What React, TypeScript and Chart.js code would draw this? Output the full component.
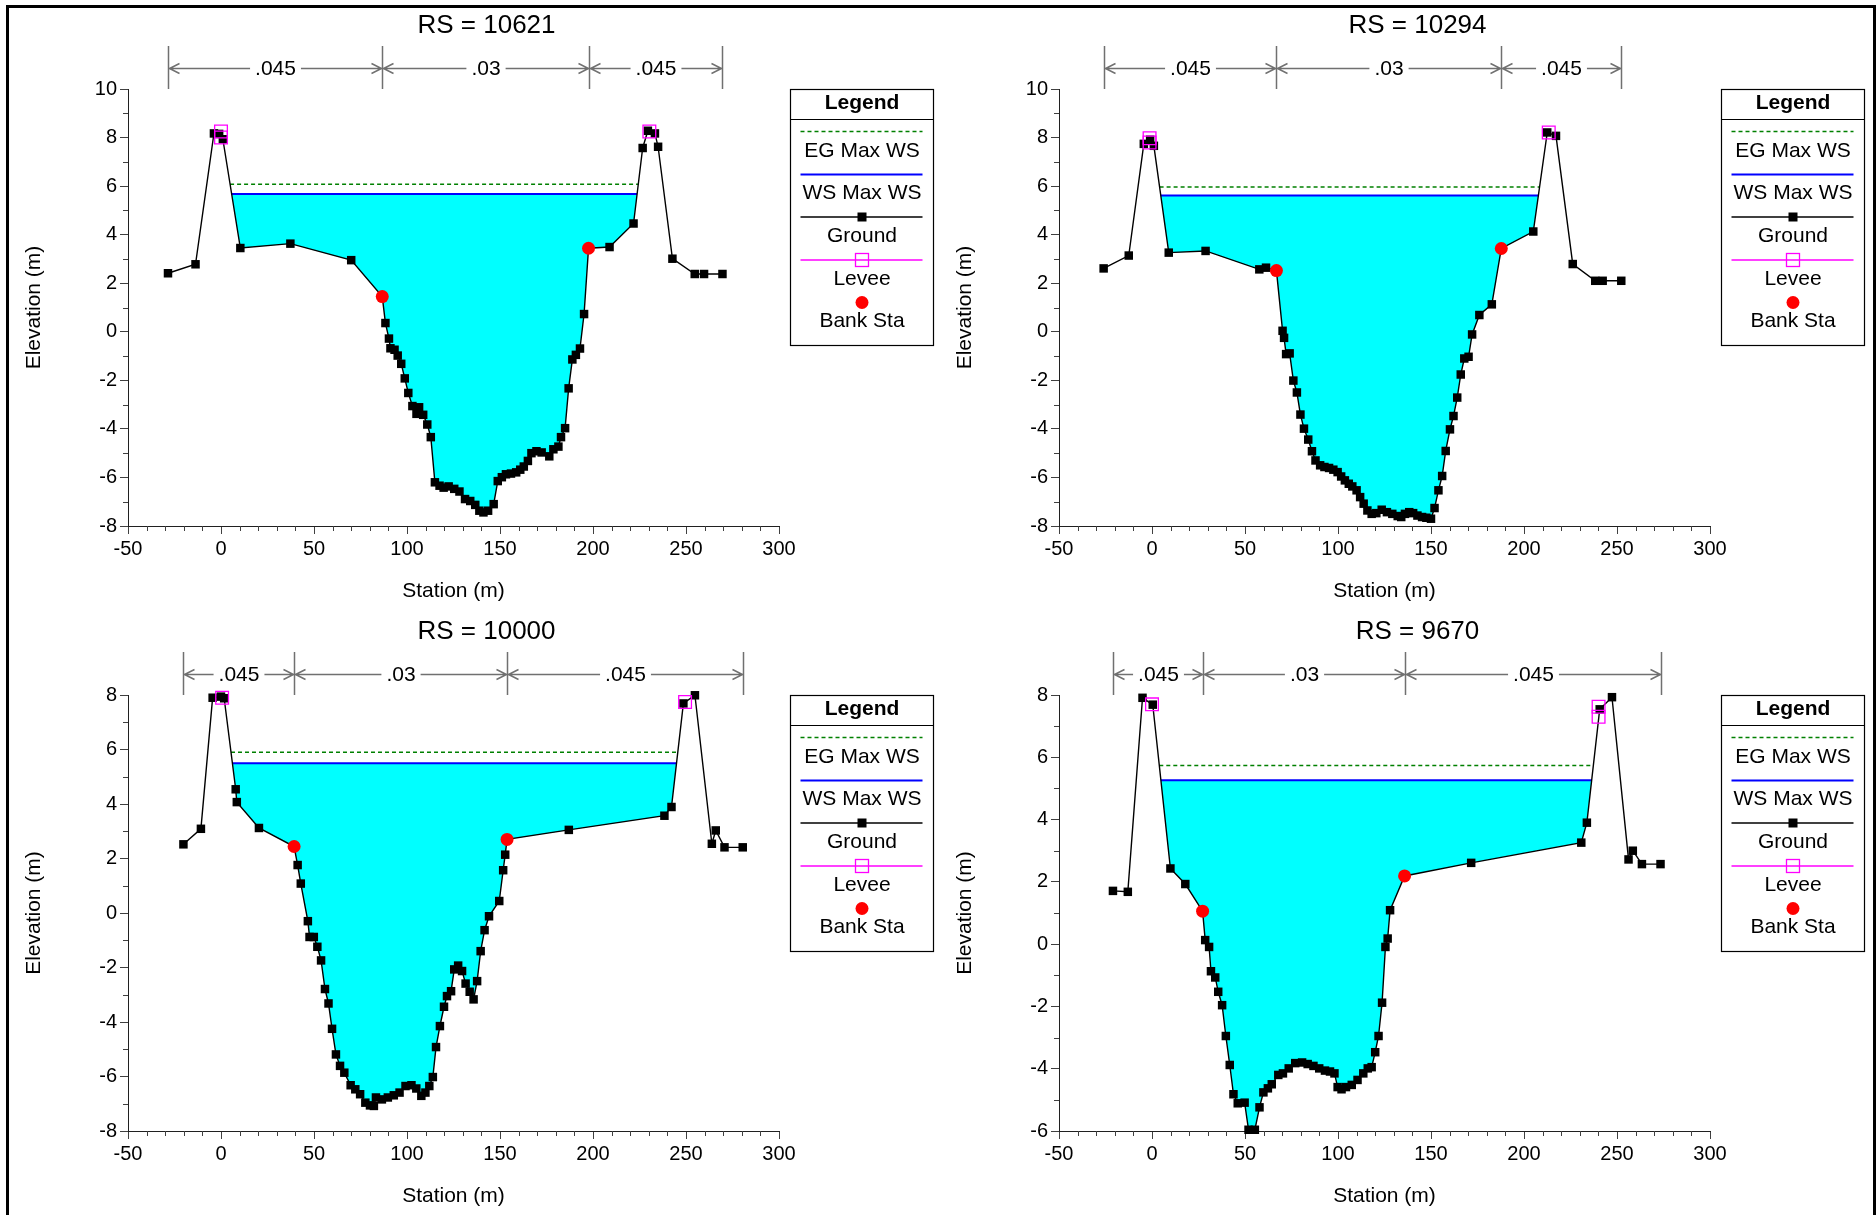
import React, { useEffect, useRef } from 'react';
import { Chart, registerables } from 'chart.js';

Chart.register(...registerables);

const FONT = '"Liberation Sans", Arial, Helvetica, sans-serif';

// ---------------- RS = 10621 ----------------
const rs10621Station = [-28.5, -13.7, -3.8, -1, 1, 10.4, 37.3, 70, 86.7, 88.4, 90.3, 91.1, 93.3, 95, 96.9, 98.8, 100.7, 102.9, 105.1, 106.5, 108.7, 110.9, 112.8, 115, 117.5, 119.7, 122.4, 125.4, 128.2, 131.2, 134, 136.7, 138.9, 141.1, 143.6, 146.6, 148.8, 151, 153.2, 155.9, 158.7, 160.9, 162.8, 165, 166.9, 169.6, 172.4, 176.5, 178.7, 181.4, 182.8, 185, 186.9, 188.9, 190.8, 193, 195.2, 197.6, 208.9, 221.8, 226.7, 229.5, 233.3, 235, 242.7, 254.7, 259.7, 269.6];
const rs10621Elev = [2.41, 2.78, 8.17, 8.15, 7.93, 3.45, 3.63, 2.95, 1.45, 0.36, -0.28, -0.68, -0.74, -0.98, -1.32, -1.92, -2.52, -3.06, -3.38, -3.11, -3.42, -3.82, -4.34, -6.2, -6.34, -6.42, -6.37, -6.47, -6.58, -6.89, -6.97, -7.13, -7.37, -7.44, -7.37, -7.1, -6.15, -5.99, -5.87, -5.84, -5.79, -5.68, -5.55, -5.32, -5.0, -4.92, -4.97, -5.13, -4.84, -4.73, -4.34, -3.97, -2.33, -1.14, -0.95, -0.69, 0.73, 3.44, 3.49, 4.46, 7.57, 8.28, 8.17, 7.62, 3.01, 2.38, 2.38, 2.38];
const rs10621LeveeStation = [0, 0, 230.3];
const rs10621LeveeElev = [8.25, 8.0, 8.25];
const rs10621BankStation = [86.7, 197.6];
const rs10621BankElev = [1.45, 3.44];
const rs10621WS = 5.68;
const rs10621EG = 6.08;
const rs10621NBreaks = [-28.5, 86.7, 197.6, 269.6];
const rs10621NValues = ['.045', '.03', '.045'];

// ---------------- RS = 10294 ----------------
const rs10294Station = [-26, -12.5, -4.4, -1, 1, 9, 28.8, 57.7, 61.3, 66.9, 70.2, 71, 72.1, 74, 76, 77.9, 79.8, 81.7, 84, 86, 87.9, 90.4, 92.7, 95.2, 97.5, 99.8, 101.7, 103.7, 105.8, 107.7, 110, 111.9, 113.8, 115.8, 118.1, 120.6, 123.5, 126.3, 129.2, 132.1, 134, 136, 138.3, 140.4, 142.7, 145.2, 147.5, 150, 151.9, 154, 156, 157.9, 160.2, 162.1, 164.1, 166, 167.9, 170.2, 172.1, 176, 182.7, 187.8, 205, 212.5, 217.2, 226.2, 238.3, 242.3, 252.3];
const rs10294Elev = [2.61, 3.14, 7.74, 7.91, 7.66, 3.26, 3.33, 2.57, 2.64, 2.52, 0.04, -0.25, -0.92, -0.89, -2.01, -2.5, -3.41, -3.99, -4.44, -4.92, -5.3, -5.5, -5.57, -5.61, -5.68, -5.78, -5.96, -6.12, -6.26, -6.37, -6.53, -6.81, -7.08, -7.36, -7.5, -7.47, -7.33, -7.43, -7.5, -7.59, -7.63, -7.5, -7.43, -7.47, -7.57, -7.63, -7.66, -7.7, -7.26, -6.53, -5.94, -4.91, -4.02, -3.47, -2.71, -1.76, -1.1, -1.03, -0.11, 0.69, 1.13, 3.43, 4.13, 8.21, 8.07, 2.79, 2.1, 2.1, 2.1];
const rs10294LeveeStation = [-1.3, -1.3, 213.3];
const rs10294LeveeElev = [7.97, 7.8, 8.21];
const rs10294BankStation = [66.9, 187.8];
const rs10294BankElev = [2.52, 3.43];
const rs10294WS = 5.61;
const rs10294EG = 5.96;
const rs10294NBreaks = [-26, 66.9, 187.8, 252.3];
const rs10294NValues = ['.045', '.03', '.045'];

// ---------------- RS = 10000 ----------------
const rs10000Station = [-20.2, -10.8, -4.5, 0, 1.7, 7.9, 8.5, 20.4, 39.3, 41.2, 42.9, 46.7, 47.6, 49.9, 51.8, 53.8, 55.9, 57.8, 59.7, 61.8, 64, 66.3, 69.7, 72.2, 74.8, 77.6, 80.1, 82.2, 83.3, 86.5, 89.7, 92.9, 96, 99.2, 102.4, 105, 107.7, 109.9, 112, 113.9, 115.6, 117.7, 119.9, 121.5, 123.7, 125.4, 127.5, 129.6, 131.5, 133.7, 135.8, 137.7, 139.6, 141.7, 144.1, 149.6, 151.7, 152.8, 153.8, 187, 238.4, 242.2, 248.6, 254.8, 263.9, 266, 270.7, 280.5];
const rs10000Elev = [2.52, 3.09, 7.9, 7.94, 7.88, 4.54, 4.07, 3.12, 2.44, 1.76, 1.08, -0.3, -0.88, -0.88, -1.24, -1.74, -2.79, -3.32, -4.25, -5.19, -5.61, -5.86, -6.32, -6.47, -6.65, -6.96, -7.06, -7.08, -6.77, -6.84, -6.77, -6.69, -6.59, -6.35, -6.32, -6.44, -6.71, -6.59, -6.35, -6.02, -4.92, -4.15, -3.44, -3.05, -2.87, -2.07, -1.93, -2.13, -2.59, -2.89, -3.17, -2.5, -1.4, -0.63, -0.12, 0.44, 1.57, 2.14, 2.7, 3.05, 3.57, 3.89, 7.69, 7.99, 2.54, 3.03, 2.41, 2.41];
const rs10000LeveeStation = [0.6, 249.5];
const rs10000LeveeElev = [7.9, 7.74];
const rs10000BankStation = [39.3, 153.8];
const rs10000BankElev = [2.44, 2.7];
const rs10000WS = 5.5;
const rs10000EG = 5.9;
const rs10000NBreaks = [-20.2, 39.3, 153.8, 280.5];
const rs10000NValues = ['.045', '.03', '.045'];

// ---------------- RS = 9670 ----------------
const rs9670Station = [-21, -13, -5.1, 0.4, 9.9, 17.9, 27.2, 28.6, 30.7, 31.7, 34, 35.6, 37.7, 39.7, 41.8, 43.8, 46.1, 49.8, 51.9, 55.3, 57.8, 59.9, 62.3, 64.4, 67.9, 70.4, 73.5, 77, 80.7, 83.7, 86.8, 89.9, 93, 95.7, 98.1, 99.8, 101.9, 104.3, 107.4, 110.5, 113.6, 116, 118.1, 120, 121.8, 123.7, 125.5, 126.7, 128, 135.8, 171.6, 230.8, 233.8, 240.7, 247.3, 256.2, 258.5, 263.4, 273.4];
const rs9670Elev = [1.71, 1.68, 7.91, 7.69, 2.43, 1.93, 1.06, 0.13, -0.09, -0.87, -1.07, -1.53, -1.96, -2.95, -3.88, -4.82, -5.11, -5.09, -5.96, -5.96, -5.24, -4.76, -4.63, -4.5, -4.2, -4.15, -3.99, -3.82, -3.8, -3.85, -3.91, -3.99, -4.06, -4.09, -4.15, -4.59, -4.66, -4.59, -4.52, -4.36, -4.15, -3.99, -3.95, -3.47, -2.95, -1.88, -0.09, 0.18, 1.09, 2.19, 2.61, 3.26, 3.9, 7.54, 7.93, 2.72, 3.0, 2.57, 2.57];
const rs9670LeveeStation = [0, 240.1, 240.1];
const rs9670LeveeElev = [7.7, 7.62, 7.3];
const rs9670BankStation = [27.2, 135.8];
const rs9670BankElev = [1.06, 2.19];
const rs9670WS = 5.26;
const rs9670EG = 5.74;
const rs9670NBreaks = [-21, 27.2, 135.8, 273.4];
const rs9670NValues = ['.045', '.03', '.045'];

// axis ranges / tick labels
const xMin = -50;
const xMax = 300;
const xStep = 50;
const yStep = 2;
const yRanges = [[-8, 10], [-8, 10], [-8, 8], [-6, 8]];
const titles = ['RS = 10621', 'RS = 10294', 'RS = 10000', 'RS = 9670'];
const legendLabels = ['EG Max WS', 'WS Max WS', 'Ground', 'Levee', 'Bank Sta'];

type Panel = {
  title: string;
  station: number[];
  elev: number[];
  leveeX: number[];
  leveeY: number[];
  bankX: number[];
  bankY: number[];
  ws: number;
  eg: number;
  nBreaks: number[];
  nValues: string[];
  yMin: number;
  yMax: number;
  L: number;
  T: number;
  H: number;
};

const panels: Panel[] = [
  { title: titles[0], station: rs10621Station, elev: rs10621Elev, leveeX: rs10621LeveeStation, leveeY: rs10621LeveeElev, bankX: rs10621BankStation, bankY: rs10621BankElev, ws: rs10621WS, eg: rs10621EG, nBreaks: rs10621NBreaks, nValues: rs10621NValues, yMin: yRanges[0][0], yMax: yRanges[0][1], L: 128, T: 89, H: 437 },
  { title: titles[1], station: rs10294Station, elev: rs10294Elev, leveeX: rs10294LeveeStation, leveeY: rs10294LeveeElev, bankX: rs10294BankStation, bankY: rs10294BankElev, ws: rs10294WS, eg: rs10294EG, nBreaks: rs10294NBreaks, nValues: rs10294NValues, yMin: yRanges[1][0], yMax: yRanges[1][1], L: 1059, T: 89, H: 437 },
  { title: titles[2], station: rs10000Station, elev: rs10000Elev, leveeX: rs10000LeveeStation, leveeY: rs10000LeveeElev, bankX: rs10000BankStation, bankY: rs10000BankElev, ws: rs10000WS, eg: rs10000EG, nBreaks: rs10000NBreaks, nValues: rs10000NValues, yMin: yRanges[2][0], yMax: yRanges[2][1], L: 128, T: 695, H: 436 },
  { title: titles[3], station: rs9670Station, elev: rs9670Elev, leveeX: rs9670LeveeStation, leveeY: rs9670LeveeElev, bankX: rs9670BankStation, bankY: rs9670BankElev, ws: rs9670WS, eg: rs9670EG, nBreaks: rs9670NBreaks, nValues: rs9670NValues, yMin: yRanges[3][0], yMax: yRanges[3][1], L: 1059, T: 695, H: 436 },
];

const PAD_LEFT = 120;
const PAD_TOP = 84;
const PAD_RIGHT = 160;
const PAD_BOTTOM = 90;
const PLOT_W = 651;

function interp(x1: number, y1: number, x2: number, y2: number, level: number) {
  if (y2 === y1) return x1;
  return x1 + ((level - y1) / (y2 - y1)) * (x2 - x1);
}

function crossing(xs: number[], ys: number[], level: number) {
  const n = xs.length;
  let iMin = 0;
  for (let i = 1; i < n; i++) if (ys[i] < ys[iMin]) iMin = i;
  let l = iMin;
  while (l > 0 && ys[l - 1] < level) l--;
  let r = iMin;
  while (r < n - 1 && ys[r + 1] < level) r++;
  const lx = l > 0 ? interp(xs[l - 1], ys[l - 1], xs[l], ys[l], level) : xs[0];
  const rx = r < n - 1 ? interp(xs[r], ys[r], xs[r + 1], ys[r + 1], level) : xs[n - 1];
  return { l, r, lx, rx };
}

function XSChart({ p }: { p: Panel }) {
  const ref = useRef<HTMLCanvasElement>(null);
  const cw = PAD_LEFT + PLOT_W + PAD_RIGHT;
  const ch = PAD_TOP + p.H + PAD_BOTTOM;

  useEffect(() => {
    const canvas = ref.current;
    if (!canvas) return;
    const wsC = crossing(p.station, p.elev, p.ws);
    const egC = crossing(p.station, p.elev, p.eg);
    const water: { x: number; y: number }[] = [{ x: wsC.lx, y: p.ws }];
    for (let i = wsC.l; i <= wsC.r; i++) water.push({ x: p.station[i], y: p.elev[i] });
    water.push({ x: wsC.rx, y: p.ws });

    const deco = {
      id: 'deco',
      afterDraw(chart: any) {
        const { ctx, chartArea: a, scales } = chart;
        const xs = scales.x;
        const ys = scales.y;
        ctx.save();
        // minor ticks
        ctx.strokeStyle = '#404040';
        ctx.lineWidth = 1;
        ctx.beginPath();
        for (let v = xMin; v <= xMax; v += 10) {
          if (v % 50 === 0) continue;
          const px = Math.round(xs.getPixelForValue(v)) + 0.5;
          ctx.moveTo(px, a.bottom);
          ctx.lineTo(px, a.bottom + 5);
        }
        for (let v = p.yMin; v <= p.yMax; v += 1) {
          if (v % 2 === 0) continue;
          const py = Math.round(ys.getPixelForValue(v)) + 0.5;
          ctx.moveTo(a.left - 5, py);
          ctx.lineTo(a.left, py);
        }
        ctx.stroke();

        // titles
        ctx.fillStyle = '#000';
        ctx.textAlign = 'center';
        ctx.textBaseline = 'middle';
        ctx.font = `26px ${FONT}`;
        ctx.fillText(p.title, (a.left + a.right) / 2 + 33, a.top - 63);
        ctx.font = `21px ${FONT}`;
        ctx.fillText('Station (m)', (a.left + a.right) / 2, a.bottom + 65);
        ctx.save();
        ctx.translate(a.left - 94, (a.top + a.bottom) / 2);
        ctx.rotate(-Math.PI / 2);
        ctx.fillText('Elevation (m)', 0, 0);
        ctx.restore();

        // Manning's n bars
        const yA = Math.round(a.top - 21.5) + 0.5;
        const bx = p.nBreaks.map((v) => Math.round(xs.getPixelForValue(v)) + 0.5);
        ctx.strokeStyle = '#707070';
        ctx.lineWidth = 1.5;
        ctx.beginPath();
        bx.forEach((x) => {
          ctx.moveTo(x, a.top - 43);
          ctx.lineTo(x, a.top);
        });
        for (let i = 0; i < bx.length - 1; i++) {
          const x1 = bx[i];
          const x2 = bx[i + 1];
          ctx.moveTo(x1, yA);
          ctx.lineTo(x2, yA);
          ctx.moveTo(x1 + 11, yA - 5);
          ctx.lineTo(x1 + 1, yA);
          ctx.lineTo(x1 + 11, yA + 5);
          ctx.moveTo(x2 - 11, yA - 5);
          ctx.lineTo(x2 - 1, yA);
          ctx.lineTo(x2 - 11, yA + 5);
        }
        ctx.stroke();
        ctx.font = `21px ${FONT}`;
        for (let i = 0; i < bx.length - 1; i++) {
          const mid = (bx[i] + bx[i + 1]) / 2;
          const w = ctx.measureText(p.nValues[i]).width;
          ctx.fillStyle = '#fff';
          ctx.fillRect(mid - w / 2 - 5, yA - 10, w + 10, 20);
          ctx.fillStyle = '#000';
          ctx.fillText(p.nValues[i], mid, yA + 1);
        }

        // legend box
        const lx = Math.round(a.right + 11) + 0.5;
        const ly = Math.round(a.top) + 0.5;
        const lw = 143;
        const lh = 256;
        const x1 = lx + 10;
        const x2 = lx + 132;
        const cx = lx + lw / 2;
        ctx.strokeStyle = '#000';
        ctx.lineWidth = 1.2;
        ctx.strokeRect(lx, ly, lw, lh);
        ctx.beginPath();
        ctx.moveTo(lx, ly + 30);
        ctx.lineTo(lx + lw, ly + 30);
        ctx.stroke();
        ctx.fillStyle = '#000';
        ctx.font = `bold 21px ${FONT}`;
        ctx.fillText('Legend', cx, ly + 14);
        ctx.font = `21px ${FONT}`;
        // EG
        ctx.save();
        ctx.strokeStyle = '#008000';
        ctx.lineWidth = 1.5;
        ctx.setLineDash([4, 3]);
        ctx.beginPath();
        ctx.moveTo(x1, ly + 42);
        ctx.lineTo(x2, ly + 42);
        ctx.stroke();
        ctx.restore();
        ctx.fillText(legendLabels[0], cx, ly + 62);
        // WS
        ctx.strokeStyle = '#0000ff';
        ctx.lineWidth = 2;
        ctx.beginPath();
        ctx.moveTo(x1, ly + 85);
        ctx.lineTo(x2, ly + 85);
        ctx.stroke();
        ctx.fillText(legendLabels[1], cx, ly + 104);
        // Ground
        ctx.strokeStyle = '#000';
        ctx.lineWidth = 1.5;
        ctx.beginPath();
        ctx.moveTo(x1, ly + 127.5);
        ctx.lineTo(x2, ly + 127.5);
        ctx.stroke();
        ctx.fillRect(cx - 4.5, ly + 127.5 - 4.5, 9, 9);
        ctx.fillText(legendLabels[2], cx, ly + 146.5);
        // Levee
        ctx.strokeStyle = '#ff00ff';
        ctx.lineWidth = 1.5;
        ctx.beginPath();
        ctx.moveTo(x1, ly + 170.5);
        ctx.lineTo(x2, ly + 170.5);
        ctx.stroke();
        ctx.lineWidth = 1.3;
        ctx.strokeRect(cx - 6.5, ly + 170.5 - 6.5, 13, 13);
        ctx.fillText(legendLabels[3], cx, ly + 190);
        // Bank
        ctx.fillStyle = '#ff0000';
        ctx.beginPath();
        ctx.arc(cx, ly + 213, 6.5, 0, Math.PI * 2);
        ctx.fill();
        ctx.fillStyle = '#000';
        ctx.fillText(legendLabels[4], cx, ly + 232);
        ctx.restore();
      },
    };

    const axisCommon = {
      type: 'linear' as const,
      grid: { display: true, drawOnChartArea: false, drawTicks: true, tickLength: 8, color: '#404040', lineWidth: 1 },
      border: { display: true, color: '#202020', width: 1 },
    };

    const chart = new Chart(canvas, {
      type: 'line',
      data: {
        datasets: [
          {
            label: 'Bank Sta',
            data: p.bankX.map((x, i) => ({ x, y: p.bankY[i] })),
            showLine: false,
            pointStyle: 'circle',
            pointRadius: 6.5,
            pointBackgroundColor: '#ff0000',
            pointBorderColor: '#ff0000',
            pointBorderWidth: 0,
            order: 0,
            clip: false,
          } as any,
          {
            label: 'Levee',
            data: p.leveeX.map((x, i) => ({ x, y: p.leveeY[i] })),
            showLine: false,
            pointStyle: 'rect',
            pointRadius: 9,
            pointBackgroundColor: 'rgba(0,0,0,0)',
            pointBorderColor: '#ff00ff',
            pointBorderWidth: 1.3,
            order: 1,
            clip: false,
          },
          {
            label: 'Ground',
            data: p.station.map((x, i) => ({ x, y: p.elev[i] })),
            borderColor: '#000',
            borderWidth: 1.4,
            pointStyle: 'rect',
            pointRadius: 6,
            pointBackgroundColor: '#000',
            pointBorderColor: '#000',
            pointBorderWidth: 0,
            tension: 0,
            order: 2,
            clip: false,
          },
          {
            label: 'EG Max WS',
            data: [{ x: egC.lx, y: p.eg }, { x: egC.rx, y: p.eg }],
            borderColor: '#008000',
            borderWidth: 1.5,
            borderDash: [4, 3],
            pointRadius: 0,
            order: 3,
          },
          {
            label: 'WS Max WS',
            data: [{ x: wsC.lx, y: p.ws }, { x: wsC.rx, y: p.ws }],
            borderColor: '#0000ff',
            borderWidth: 2,
            pointRadius: 0,
            order: 4,
          },
          {
            label: 'water',
            data: water,
            borderColor: 'rgba(0,0,0,0)',
            borderWidth: 1,
            pointRadius: 0,
            backgroundColor: '#00ffff',
            fill: { value: p.ws },
            order: 5,
          },
        ],
      },
      options: {
        animation: false,
        responsive: false,
        events: [],
        layout: { padding: { left: 0, top: PAD_TOP, right: PAD_RIGHT, bottom: 0 } },
        plugins: {
          legend: { display: false },
          tooltip: { enabled: false },
          title: { display: false },
        },
        scales: {
          x: {
            ...axisCommon,
            min: xMin,
            max: xMax,
            afterFit: (s: any) => {
              s.height = PAD_BOTTOM;
            },
            ticks: { stepSize: xStep, font: { family: FONT, size: 20 }, color: '#000', padding: 3, maxRotation: 0, autoSkip: false },
          },
          y: {
            ...axisCommon,
            min: p.yMin,
            max: p.yMax,
            afterFit: (s: any) => {
              s.width = PAD_LEFT;
            },
            ticks: { stepSize: yStep, font: { family: FONT, size: 20 }, color: '#000', padding: 3, autoSkip: false },
          },
        },
      } as any,
      plugins: [deco],
    });
    return () => chart.destroy();
  }, [p]);

  return (
    <canvas
      ref={ref}
      width={cw}
      height={ch}
      style={{ position: 'absolute', left: p.L - PAD_LEFT, top: p.T - PAD_TOP, width: cw, height: ch }}
    />
  );
}

export default function App() {
  return (
    <div style={{ position: 'absolute', left: 0, top: 0, width: 1876, height: 1215, overflow: 'hidden', background: '#fff' }}>
      <div
        style={{
          position: 'absolute',
          left: 6,
          top: 5,
          width: 1870,
          height: 1240,
          border: '3px solid #000',
          boxSizing: 'border-box',
        }}
      />
      {panels.map((p) => (
        <XSChart key={p.title} p={p} />
      ))}
    </div>
  );
}
